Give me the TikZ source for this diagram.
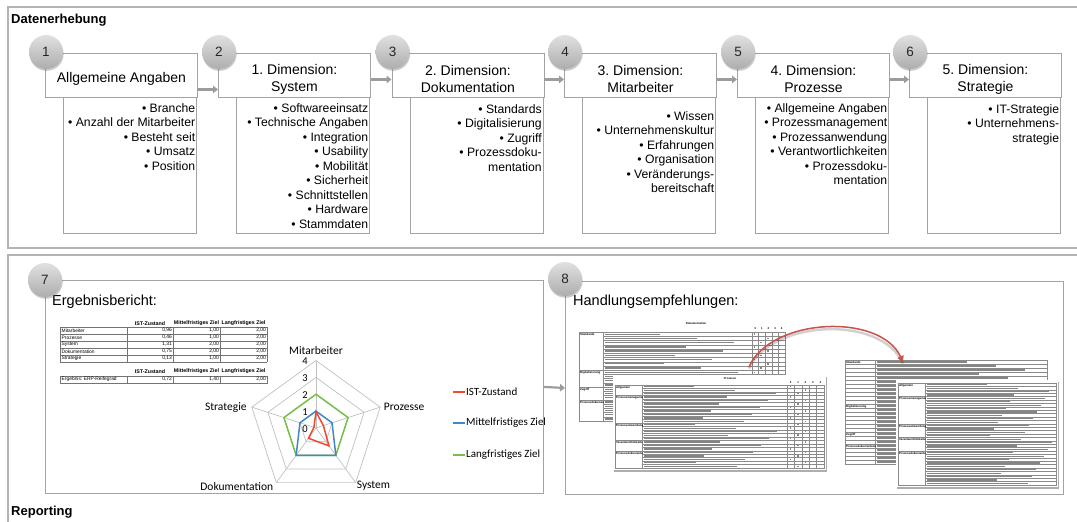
\documentclass[tikz,border=0pt]{standalone}
\usepackage{fontspec}
\setmainfont{Liberation Sans}
\newfontfamily\chartfont{Carlito}
\usetikzlibrary{arrows.meta,shadows}
\definecolor{framegray}{HTML}{B3B3B3}
\definecolor{boxgray}{HTML}{A3A3A3}
\definecolor{arrowgray}{HTML}{9C9C9C}
\definecolor{istred}{HTML}{F04A2F}
\definecolor{midblue}{HTML}{4287C8}
\definecolor{langgreen}{HTML}{77BF48}
\definecolor{gridgray}{HTML}{C0C0C0}
\definecolor{curvered}{HTML}{C9524B}
\definecolor{thgray}{HTML}{8A8A8A}
\frenchspacing
\newcommand\tabrow[6]{%
  \node[tcell,anchor=west] (#1l) at (61.5,#2) {#3};
  \node[tcell,anchor=east] (#1a) at (172,#2) {#4};
  \node[tcell,anchor=east] (#1b) at (219,#2) {#5};
  \node[tcell,anchor=east] (#1c) at (266,#2) {#6};}
\begin{document}
\begin{tikzpicture}[x=1pt,y=-1pt,
  outerframe/.style={draw=framegray, line width=1.2pt},
  hdr/.style={draw=boxgray, line width=0.9pt, fill=white, minimum width=152pt, minimum height=44pt, anchor=north west, inner sep=0pt},
  hdrtxt/.style={font=\fontsize{14}{17}\selectfont, align=center, inner sep=0pt},
  bodybox/.style={draw=boxgray, line width=0.9pt, fill=white, minimum width=133pt, minimum height=136pt, anchor=north west, inner sep=0pt},
  bodytxt/.style={font=\fontsize{12.2}{14.5}\selectfont, align=right, anchor=north east, inner sep=0pt},
  numcirc/.style={circle, minimum size=34pt, inner sep=0pt, top color=black!12, bottom color=black!32, drop shadow={shadow xshift=0.6pt, shadow yshift=-1.8pt, opacity=0.35, fill=black!60}, font=\fontsize{13.5}{13.5}\selectfont, text=black!85},
  conn/.style={draw=arrowgray, line width=2.2pt, -{Triangle[length=5pt,width=7.5pt]}},
  panel/.style={draw=boxgray, line width=0.9pt, minimum width=498pt, minimum height=213pt, anchor=north west, inner sep=0pt},
  sectitle/.style={font=\bfseries\fontsize{13}{13}\selectfont, anchor=west, inner sep=0pt},
  ptitle/.style={font=\fontsize{14.5}{14.5}\selectfont, anchor=west, inner sep=0pt},
  tgrid/.style={draw=black!55, line width=0.35pt},
  tcell/.style={font=\fontsize{4.9}{5}\selectfont, inner sep=0pt},
  thead/.style={font=\bfseries\fontsize{5.3}{5.5}\selectfont, inner sep=0pt},
  axlab/.style={font=\chartfont\fontsize{11.5}{12}\selectfont, inner sep=0pt},
  ticklab/.style={font=\chartfont\fontsize{10.5}{11}\selectfont, inner sep=0pt},
  leglab/.style={font=\chartfont\fontsize{11}{12}\selectfont, inner sep=0pt, anchor=west},
  thl/.style={draw=thgray, line width=0.3pt},
  tbar/.style={fill=black!48},
  thcat/.style={font=\bfseries\fontsize{2.9}{3}\selectfont, inner sep=0pt, anchor=north west},
  thnum/.style={font=\bfseries\fontsize{2.8}{3}\selectfont, inner sep=0pt},
  thumbbg/.style={fill=white, draw=none, anchor=north west, inner sep=0pt, drop shadow={shadow xshift=1pt, shadow yshift=-1.5pt, opacity=0.45, fill=black!70}},
  redarc/.style={draw=curvered, line width=1.5pt, -{Triangle[length=6pt,width=6.5pt]}}
]
\useasboundingbox (0,0) rectangle (1077,522);
\clip (0,0) rectangle (1077,522);

% ---------- outer frames ----------
\draw[outerframe] (8,7) rectangle (1095,248);
\draw[outerframe] (8,255) rectangle (1095,530);
\node[sectitle] (tdaten) at (11,20) {Datenerhebung};
\node[sectitle] (treport) at (11,512) {Reporting};

% ---------- step boxes ----------
\node[hdr] (h1) at (45,53) {};
\node[hdr] (h2) at (218,53) {};
\node[hdr] (h3) at (391.5,53) {};
\node[hdr] (h4) at (564,53) {};
\node[hdr] (h5) at (737,53) {};
\node[hdr] (h6) at (909,53) {};

\node[bodybox] (b1) at (63,97) {};
\node[bodybox] (b2) at (236,97) {};
\node[bodybox] (b3) at (409.5,97) {};
\node[bodybox] (b4) at (582,97) {};
\node[bodybox] (b5) at (755,97) {};
\node[bodybox] (b6) at (927,97) {};

\node[hdrtxt] (ht1) at ([yshift=-3pt]h1.center) {Allgemeine Angaben};
\node[hdrtxt] (ht2) at ([yshift=-4pt]h2.center) {1. Dimension:\\System};
\node[hdrtxt] (ht3) at ([yshift=-4pt]h3.center) {2. Dimension:\\Dokumentation};
\node[hdrtxt] (ht4) at ([yshift=-4pt]h4.center) {3. Dimension:\\Mitarbeiter};
\node[hdrtxt] (ht5) at ([yshift=-4pt]h5.center) {4. Dimension:\\Prozesse};
\node[hdrtxt] (ht6) at ([yshift=-4pt]h6.center) {5. Dimension:\\Strategie};

\node[bodytxt] (bt1) at ([xshift=-1.5pt,yshift=-6pt]b1.north east) {• Branche\\• Anzahl der Mitarbeiter\\• Besteht seit\\• Umsatz\\• Position};
\node[bodytxt] (bt2) at ([xshift=-1.5pt,yshift=-6pt]b2.north east) {• Softwareeinsatz\\• Technische Angaben\\• Integration\\• Usability\\• Mobilität\\• Sicherheit\\• Schnittstellen\\• Hardware\\• Stammdaten};
\node[bodytxt] (bt3) at ([xshift=-1.5pt,yshift=-7pt]b3.north east) {• Standards\\• Digitalisierung\\• Zugriff\\• Prozessdoku-\\mentation};
\node[bodytxt] (bt4) at ([xshift=-1.5pt,yshift=-14pt]b4.north east) {• Wissen\\• Unternehmenskultur\\• Erfahrungen\\• Organisation\\• Veränderungs-\\bereitschaft};
\node[bodytxt] (bt5) at ([xshift=-1.5pt,yshift=-6pt]b5.north east) {• Allgemeine Angaben\\• Prozessmanagement\\• Prozessanwendung\\• Verantwortlichkeiten\\• Prozessdoku-\\mentation};
\node[bodytxt] (bt6) at ([xshift=-1.5pt,yshift=-7pt]b6.north east) {• IT-Strategie\\• Unternehmens-\\strategie};

\draw[conn] ([yshift=-14pt]h1.east) -- ([yshift=-14pt]h2.west);
\draw[conn] ([yshift=-4pt]h2.east) -- ([yshift=-4pt]h3.west);
\draw[conn] ([yshift=-4pt]h3.east) -- ([yshift=-4pt]h4.west);
\draw[conn] ([yshift=-4pt]h4.east) -- ([yshift=-4pt]h5.west);
\draw[conn] ([yshift=-4pt]h5.east) -- ([yshift=-4pt]h6.west);

\node[numcirc] (c1) at (46,52) {1};
\node[numcirc] (c2) at (219,52) {2};
\node[numcirc] (c3) at (392.5,52) {3};
\node[numcirc] (c4) at (565,52) {4};
\node[numcirc] (c5) at (738,52) {5};
\node[numcirc] (c6) at (910,52) {6};

% ---------- reporting panels ----------
\node[panel] (p7) at (45,280) {};
\node[panel] (p8) at (565,281) {};
\draw[conn] (p7.east) -- (p8.west);
\node[ptitle] (t7) at (52,302) {Ergebnisbericht:};
\node[ptitle] (t8) at (573,302) {Handlungsempfehlungen:};

% ---------- table 1 ----------
\foreach \i in {0,...,5} \draw[tgrid] (60,{327+7*\i}) -- (267,{327+7*\i});
\foreach \x in {60,127,173,220,267} \draw[tgrid] (\x,327) -- (\x,362);
\node[thead] (th1) at (150,323.5) {IST-Zustand};
\node[thead] (th2) at (196.5,323.5) {Mittelfristiges Ziel};
\node[thead] (th3) at (243.5,323.5) {Langfristiges Ziel};
\tabrow{ra}{330.5}{Mitarbeiter}{0,96}{1,00}{2,00}
\tabrow{rb}{337.5}{Prozesse}{0,46}{1,00}{2,00}
\tabrow{rc}{344.5}{System}{1,31}{2,00}{2,00}
\tabrow{rd}{351.5}{Dokumentation}{0,75}{2,00}{2,00}
\tabrow{re}{358.5}{Strategie}{0,13}{1,00}{2,00}
% ---------- table 2 ----------
\draw[tgrid] (60,376) rectangle (267,383);
\foreach \x in {127,173,220} \draw[tgrid] (\x,376) -- (\x,383);
\node[thead] (th4) at (150,371.5) {IST-Zustand};
\node[thead] (th5) at (196.5,371.5) {Mittelfristiges Ziel};
\node[thead] (th6) at (243.5,371.5) {Langfristiges Ziel};
\tabrow{rf}{379.5}{Ergebnis: ERP-Reifegrad}{0,72}{1,40}{2,00}

% ---------- radar chart ----------
\begin{scope}[shift={(316,428)}, yscale=-1]
  \foreach \k in {1,...,4}
    \draw[gridgray, line width=0.7pt] (90:\k*16.875) -- (18:\k*16.875) -- (-54:\k*16.875) -- (-126:\k*16.875) -- (162:\k*16.875) -- cycle;
  \foreach \a in {90,18,-54,-126,162} \draw[gridgray, line width=0.7pt] (0,0) -- (\a:67.5);
  \draw[langgreen, line width=1.5pt] (90:2*16.875) -- (18:2*16.875) -- (-54:2*16.875) -- (-126:2*16.875) -- (162:2*16.875) -- cycle;
  \draw[midblue, line width=1.5pt] (90:1*16.875) -- (18:1*16.875) -- (-54:2*16.875) -- (-126:2*16.875) -- (162:1*16.875) -- cycle;
  \draw[istred, line width=1.5pt] (90:0.96*16.875) -- (18:0.46*16.875) -- (-54:1.31*16.875) -- (-126:0.75*16.875) -- (162:0.13*16.875) -- cycle;
  \node[axlab, anchor=south, yshift=6pt] (lm) at (90:67.5) {Mitarbeiter};
  \node[axlab, anchor=west, xshift=3.5pt] (lp) at (18:67.5) {Prozesse};
  \node[axlab, anchor=west, xshift=1pt, yshift=-3.5pt] (ls) at (-54:67.5) {System};
  \node[axlab, anchor=east, xshift=-3pt, yshift=-3.5pt] (ld) at (-126:67.5) {Dokumentation};
  \node[axlab, anchor=east, xshift=-5pt] (lst) at (162:67.5) {Strategie};
  \foreach \k in {0,...,4} \node[ticklab] (tk\k) at (-11,{\k*16.875-1}) {\k};
\end{scope}
% legend
\coordinate (lgA1) at (453,392); \coordinate (lgA2) at (465,392);
\coordinate (lgB1) at (453,423); \coordinate (lgB2) at (465,423);
\coordinate (lgC1) at (453,455); \coordinate (lgC2) at (465,455);
\draw[istred, line width=1.5pt] (lgA1) -- (lgA2);
\draw[midblue, line width=1.5pt] (lgB1) -- (lgB2);
\draw[langgreen, line width=1.5pt] (lgC1) -- (lgC2);
\node[leglab] (lga) at (466,392) {IST-Zustand};
\node[leglab] (lgb) at (466,423) {Mittelfristiges Ziel};
\node[leglab] (lgc) at (466,455) {Langfristiges Ziel};

% ---------- thumbnail A (Dokumentation) ----------
\node[thnum] (tAt) at (696,323) {Dokumentation};
\foreach \n [count=\j from 0] in {0,1,2,3,4} \node[thnum] (tAn\j) at ({755.3+6.6*\j},328.5) {\n};
\draw[thl] (579,332) rectangle (785,421);
\foreach \i in {1,...,20} \draw[thl] (603,{332+4.238*\i}) -- (785,{332+4.238*\i});
\foreach \y in {370.1,387.1,399.8} \draw[thl] (579,\y) -- (603,\y);
\foreach \x in {603,752,758.6,765.2,771.8,778.4} \draw[thl] (\x,332) -- (\x,421);
\foreach \i [evaluate=\i as \l using {55+mod(37*\i,85)}] in {0,...,20}
  \fill[tbar] (605,{332+4.238*\i+1.5}) rectangle ({605+\l},{332+4.238*\i+2.8});
\foreach \i [evaluate=\i as \mx using {753.8+6.6*mod(\i*2,3)}] in {0,...,20}
  \fill[tbar] (\mx,{332+4.238*\i+1.4}) rectangle +(1.6,1.5);
\begin{scope}
  \clip (579,332) rectangle (603,421);
  \node[thcat] (tAc1) at (580,333.2) {Standards};
  \node[thcat] (tAc2) at (580,371.3) {Digitalisierung};
  \node[thcat] (tAc3) at (580,388.3) {Zugriff};
  \node[thcat] (tAc4) at (580,401) {Prozessdokumentation};
\end{scope}

% ---------- thumbnail B (Prozesse) ----------
\node[thumbbg, minimum width=213pt, minimum height=95pt] (tB) at (613,375) {};
\node[thnum] (tBt) at (730,379) {Prozesse};
\foreach \n [count=\j from 0] in {0,1,2,3,4} \node[thnum] (tBn\j) at ({790.7+7.4*\j},382.5) {\n};
\draw[thl] (615,385) rectangle (824,468);
\foreach \i in {1,...,23} \draw[thl] (642,{385+3.458*\i}) -- (824,{385+3.458*\i});
\foreach \y in {395.4,423,440.3,450.7} \draw[thl] (615,\y) -- (642,\y);
\foreach \x in {642,787,794.4,801.8,809.2,816.6} \draw[thl] (\x,385) -- (\x,468);
\foreach \i [evaluate=\i as \l using {50+mod(41*\i,90)}] in {0,...,23}
  \fill[tbar] (644,{385+3.458*\i+1.1}) rectangle ({644+\l},{385+3.458*\i+2.4});
\foreach \i [evaluate=\i as \mx using {789.8+7.4*mod(\i*5,3)}] in {0,...,23}
  \fill[tbar] (\mx,{385+3.458*\i+1}) rectangle +(1.6,1.4);
\begin{scope}
  \clip (615,385) rectangle (642,468);
  \node[thcat] (tBc1) at (616,386) {Allgemein};
  \node[thcat] (tBc2) at (616,396.4) {Prozessmanagement};
  \node[thcat] (tBc3) at (616,424) {Prozessanwendung};
  \node[thcat] (tBc4) at (616,441.3) {Verantwortlichkeiten};
  \node[thcat] (tBc5) at (616,451.7) {Prozessdokumentation};
\end{scope}

% ---------- thumbnail C ----------
\draw[thl] (845,360) rectangle (1047,464);
\foreach \i in {1,...,25} \draw[thl] (845,{360+4*\i}) -- (1047,{360+4*\i});
\draw[thl] (875,360) -- (875,464);
\foreach \i [evaluate=\i as \l using {90+mod(29*\i,75)}] in {0,...,25}
  \fill[tbar] (877,{360+4*\i+1.4}) rectangle ({877+\l},{360+4*\i+2.7});
\begin{scope}
  \clip (845,360) rectangle (875,464);
  \node[thcat] (tCc1) at (846,361) {Standards};
  \node[thcat] (tCc2) at (846,405) {Digitalisierung};
  \node[thcat] (tCc3) at (846,433) {Zugriff};
  \node[thcat] (tCc4) at (846,445) {Prozessdokumentation};
\end{scope}

% ---------- thumbnail D ----------
\node[thumbbg, minimum width=162pt, minimum height=107pt] (tD) at (896,380) {};
\draw[thl] (898,383) rectangle (1056,485);
\foreach \i in {1,...,29} \draw[thl] (925,{383+3.4*\i}) -- (1056,{383+3.4*\i});
\foreach \y in {396.6,423.8,437.4,451} \draw[thl] (898,\y) -- (925,\y);
\draw[thl] (925,383) -- (925,485);
\foreach \i [evaluate=\i as \l using {60+mod(31*\i,66)}] in {0,...,29}
  \fill[tbar] (927,{383+3.4*\i+1.1}) rectangle ({927+\l},{383+3.4*\i+2.3});
\begin{scope}
  \clip (898,383) rectangle (925,485);
  \node[thcat] (tDc1) at (899,384) {Allgemein};
  \node[thcat] (tDc2) at (899,397.6) {Prozessmanagement};
  \node[thcat] (tDc3) at (899,424.8) {Prozessanwendung};
  \node[thcat] (tDc4) at (899,438.4) {Verantwortlichkeiten};
  \node[thcat] (tDc5) at (899,452) {Prozessdokumentation};
\end{scope}

% ---------- red curved arrow ----------
\coordinate (arcA) at (749,367);
\coordinate (arcB) at (903,362);
\draw[draw=black, opacity=0.18, line width=2.5pt] ([yshift=-1.5pt]arcA) .. controls (771,320) and (881,314) .. ([yshift=-1.5pt]arcB);
\draw[redarc] (arcA) .. controls (770,318) and (880,312) .. (arcB);

% circles 7 and 8
\node[numcirc] (c7) at (45,280) {7};
\node[numcirc] (c8) at (565,279) {8};
\end{tikzpicture}
\end{document}
